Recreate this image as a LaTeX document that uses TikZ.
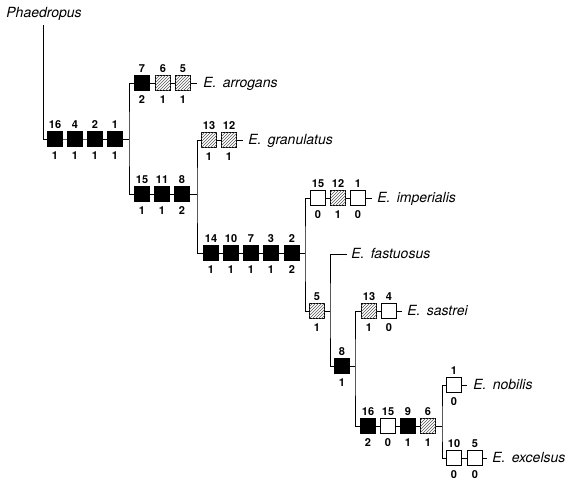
\documentclass[tikz,border=0pt]{standalone}
\usepackage{fontspec}
\setmainfont{TeX Gyre Heros}
\usetikzlibrary{patterns}
\pgfdeclarelayer{bg}
\pgfsetlayers{bg,main}
\newcommand\chbox[5]{\node[#1, label={above:#4}, label={[label distance=4.5pt]below:#5}] (#2) at (#3) {};}
\begin{document}
\begin{tikzpicture}[x=1pt,y=-1pt, line width=0.8pt,
  box/.style={draw, minimum size=14.5pt, inner sep=0pt, line width=0.8pt},
  blk/.style={box, fill=black},
  wht/.style={box, fill=white},
  hat/.style={box, fill=white},
  hatch/.style={pattern=north east lines, pattern color=black!65},
  every label/.style={font=\fontsize{11}{11}\selectfont\bfseries, inner sep=0pt},
  label distance=2.5pt,
  taxon/.style={font=\fontsize{14}{15}\selectfont\itshape, inner sep=0pt, anchor=base west}]
\useasboundingbox (0,0) rectangle (566,481);

% root
\node[taxon] (tPha) at (6,18) {Phaedropus};
\coordinate (top) at (43,25);
\chbox{blk}{r1}{55,139}{16}{1}
\chbox{blk}{r2}{75,139}{4}{1}
\chbox{blk}{r3}{95,139}{2}{1}
\chbox{blk}{r4}{115,139}{1}{1}
\coordinate (j1) at (129,139);

% arrogans
\chbox{blk}{a1}{142,83}{7}{2}
\chbox{hat}{a2}{163,83}{6}{1}
\chbox{hat}{a3}{183,83}{5}{1}
\coordinate (eArr) at (197,83);
\node[taxon] (tArr) at (203,88) {E.\, arrogans};

% second row
\chbox{blk}{c1}{142,194}{15}{1}
\chbox{blk}{c2}{162,194}{11}{1}
\chbox{blk}{c3}{182,194}{8}{2}
\coordinate (j2) at (197,194);

% granulatus
\chbox{hat}{g1}{209,140}{13}{1}
\chbox{hat}{g2}{229,140}{12}{1}
\coordinate (eGra) at (243,140);
\node[taxon] (tGra) at (248,145) {E.\, granulatus};

% third row
\chbox{blk}{d1}{211,253}{14}{1}
\chbox{blk}{d2}{231,253}{10}{1}
\chbox{blk}{d3}{251,253}{7}{1}
\chbox{blk}{d4}{271,253}{3}{1}
\chbox{blk}{d5}{292,253}{2}{2}
\coordinate (j3) at (305,253);

% imperialis
\chbox{wht}{i1}{318,198}{15}{0}
\chbox{hat}{i2}{338,198}{12}{1}
\chbox{wht}{i3}{358,198}{1}{0}
\coordinate (eImp) at (372,198);
\node[taxon] (tImp) at (377,203) {E.\, imperialis};

% node 5
\chbox{hat}{f1}{317,311}{5}{1}
\coordinate (j4) at (330,311);
\coordinate (eFas) at (347,254);
\node[taxon] (tFas) at (351,259) {E.\, fastuosus};

% node 8
\chbox{blk}{h1}{342,366}{8}{1}
\coordinate (j5) at (355,366);

% sastrei
\chbox{hat}{s1}{369,311}{13}{1}
\chbox{wht}{s2}{389,311}{4}{0}
\coordinate (eSas) at (402,311);
\node[taxon] (tSas) at (407,316) {E.\, sastrei};

% last row
\chbox{blk}{k1}{368,426}{16}{2}
\chbox{wht}{k2}{388,426}{15}{0}
\chbox{blk}{k3}{408,426}{9}{1}
\chbox{hat}{k4}{428,426}{6}{1}
\coordinate (j6) at (442,426);

% nobilis
\chbox{wht}{n1}{454,385}{1}{0}
\coordinate (eNob) at (467,385);
\node[taxon] (tNob) at (473,390) {E.\, nobilis};

% excelsus
\chbox{wht}{x1}{454,458}{10}{0}
\chbox{wht}{x2}{475,458}{5}{0}
\coordinate (eExc) at (487,458);
\node[taxon] (tExc) at (492,463) {E.\, excelsus};

% hatching
\foreach \b in {a2,a3,g1,g2,i2,f1,s1,k4}
  \path[hatch] (\b.south west) rectangle (\b.north east);

\begin{pgfonlayer}{bg}
\draw (top) |- (r1.center) -- (j1);
\draw (a1.center) -| (j1) |- (c1.center);
\draw (a1.center) -- (eArr);
\draw (c1.center) -- (j2);
\draw (g1.center) -| (j2) |- (d1.center);
\draw (g1.center) -- (eGra);
\draw (d1.center) -- (j3);
\draw (i1.center) -| (j3) |- (f1.center);
\draw (i1.center) -- (eImp);
\draw (f1.center) -- (j4);
\draw (eFas) -| (j4) |- (h1.center);
\draw (h1.center) -- (j5);
\draw (s1.center) -| (j5) |- (k1.center);
\draw (s1.center) -- (eSas);
\draw (k1.center) -- (j6);
\draw (n1.center) -| (j6) |- (x1.center);
\draw (n1.center) -- (eNob);
\draw (x1.center) -- (eExc);
\end{pgfonlayer}
\end{tikzpicture}
\end{document}
